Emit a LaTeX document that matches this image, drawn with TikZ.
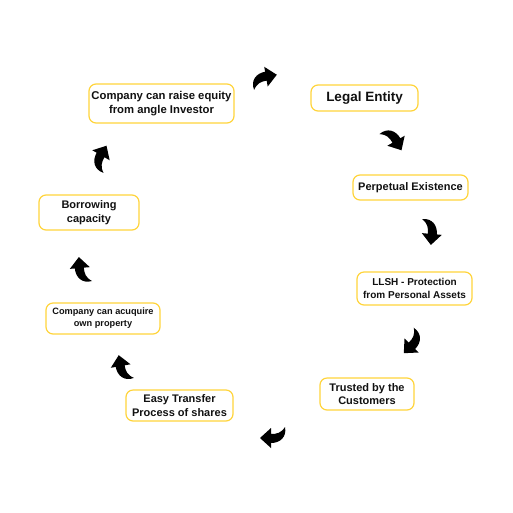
\documentclass[tikz,border=0pt]{standalone}
\usepackage{fontspec}
\setmainfont{Liberation Sans}
\definecolor{boxline}{HTML}{FFD43B}
\definecolor{txt}{HTML}{111111}
\tikzset{
  box/.style={draw=boxline, line width=1.2pt, rounded corners=7pt, fill=white,
    align=center, text=txt, font=\bfseries\fontsize{11}{13.5}\selectfont, inner sep=0pt},
  carrow/.pic={\fill[black] (13pt,0pt) -- (2pt,10pt) -- (2pt,5pt)
     .. controls (-7pt,5pt) and (-14pt,-1pt) .. (-12pt,-11pt)
     .. controls (-8pt,-5pt) and (-4pt,-4pt) .. (2pt,-4pt) -- (2pt,-10pt) -- cycle;}
}
\begin{document}
\begin{tikzpicture}[x=1pt,y=-1pt]
\useasboundingbox (0,0) rectangle (513,512);
\node[box, minimum width=107pt, minimum height=26pt, font=\bfseries\fontsize{13.5}{15}\selectfont] (legal) at (364.5,98) {Legal Entity};
\node[box, minimum width=115pt, minimum height=25pt] (perp) at (410.5,187.5) {Perpetual Existence};
\node[box, minimum width=115pt, minimum height=33pt, font=\bfseries\fontsize{10}{12.5}\selectfont] (llsh) at (414.5,288.5) {LLSH - Protection\\from Personal Assets};
\node[box, minimum width=94pt, minimum height=32pt] (trust) at (367,394) {Trusted by the\\Customers};
\node[box, minimum width=107pt, minimum height=31pt] (easy) at (179.5,405.5) {Easy Transfer\\Process of shares};
\node[box, minimum width=114pt, minimum height=31pt, font=\bfseries\fontsize{9.2}{12}\selectfont] (acq) at (103,318.5) {Company can acuquire\\own property};
\node[box, minimum width=100pt, minimum height=35pt] (borrow) at (89,212.5) {Borrowing\\capacity};
\node[box, minimum width=145pt, minimum height=39pt, font=\bfseries\fontsize{11.3}{14}\selectfont] (raise) at (161.5,103.5) {Company can raise equity\\from angle Investor};
\pic at (264,77) [rotate=10] {carrow};
\pic at (395,139) [rotate=-60] {carrow};
\pic at (432,232) [rotate=-95] {carrow};
\pic at (413,344) [rotate=-135] {carrow};
\pic at (273,438) [rotate=180] {carrow};
\pic at (121,368) [rotate=100] {carrow};
\pic at (80,270) [rotate=95] {carrow};
\pic at (100,157) [rotate=60] {carrow};
\end{tikzpicture}
\end{document}
